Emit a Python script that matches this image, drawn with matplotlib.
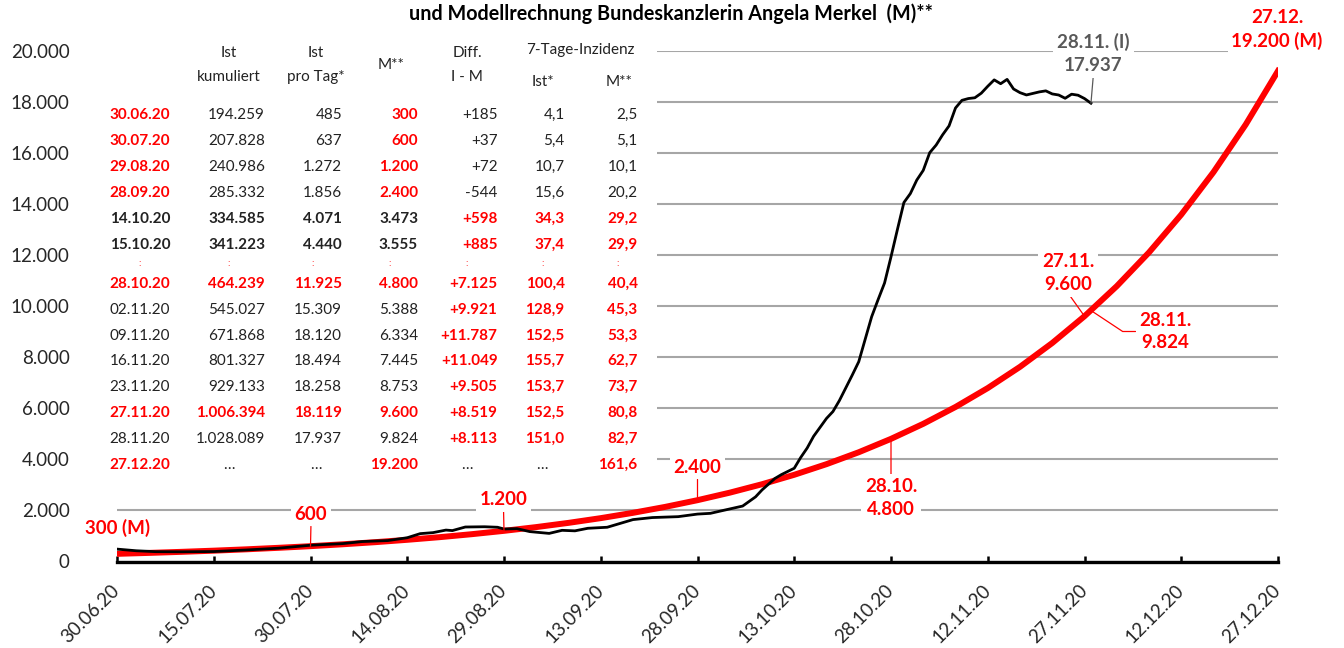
import matplotlib
matplotlib.use('Agg')
import matplotlib.pyplot as plt
import matplotlib.dates as mdates
from matplotlib.patches import Rectangle
from matplotlib.ticker import FuncFormatter
import numpy as np
import pandas as pd

plt.rcParams['font.family'] = ['Lato', 'DejaVu Sans']

W, H = 1344, 648
START = pd.Timestamp('2020-06-30')

RED = '#ff0000'
BLACK = '#222222'
GRAY = '#595959'
GRID = '#a6a6a6'

# Modellrechnung (M): Tage ab 30.06.20 und Neuinfektionen pro Tag
model_days = [0, 5, 10, 15, 20, 25, 30, 35, 40, 45, 50, 55, 60, 65, 70, 75, 80, 85, 90,
              95, 100, 105, 110, 115, 120, 125, 130, 135, 140, 145, 150, 155, 160, 165,
              170, 175, 180]
model_values = [300, 337, 378, 424, 476, 535, 600, 674, 756, 849, 952, 1069, 1200, 1347,
                1512, 1697, 1905, 2138, 2400, 2694, 3024, 3394, 3810, 4276, 4800, 5388,
                6048, 6788, 7619, 8552, 9600, 10776, 12096, 13577, 15240, 17105, 19200]

# Ist (I): Neuinfektionen pro Tag (7-Tage-Mittel)
ist_days = [0, 3, 6, 10, 15, 20, 25, 30, 35, 38, 42, 45, 47, 49, 51, 52, 54, 57, 59, 60,
            62, 64, 67, 69, 71, 73, 76, 78, 80, 83, 87, 90, 92, 94, 97, 99, 100, 102, 103,
            105, 106, 107, 108, 110, 111, 112, 113, 114, 115, 116, 117, 118, 119, 120,
            121, 122, 123, 124, 125, 126, 127, 128, 129, 130, 131, 132, 133, 134, 135,
            136, 137, 138, 139, 140, 141, 142, 143, 144, 145, 146, 147, 148, 149, 150, 151]
ist_values = [485, 420, 385, 380, 390, 450, 520, 637, 700, 780, 820, 930, 1090, 1130, 1230,
              1210, 1350, 1360, 1340, 1272, 1285, 1170, 1100, 1220, 1200, 1300, 1340, 1490,
              1640, 1720, 1755, 1856, 1885, 2000, 2170, 2530, 2800, 3250, 3400, 3650, 4071,
              4440, 4900, 5600, 5870, 6300, 6800, 7300, 7820, 8700, 9580, 10250, 10900,
              11925, 13000, 14050, 14400, 14930, 15309, 16000, 16300, 16700, 17050, 17750,
              18050, 18120, 18150, 18330, 18600, 18850, 18700, 18870, 18494, 18350, 18260,
              18320, 18380, 18420, 18300, 18258, 18130, 18290, 18250, 18119, 17937]

# Tabelle
tab_dates = ['30.06.20', '30.07.20', '29.08.20', '28.09.20', '14.10.20', '15.10.20',
             '28.10.20', '02.11.20', '09.11.20', '16.11.20', '23.11.20', '27.11.20',
             '28.11.20', '27.12.20']
tab_kum = ['194.259', '207.828', '240.986', '285.332', '334.585', '341.223', '464.239',
           '545.027', '671.868', '801.327', '929.133', '1.006.394', '1.028.089', '…']
tab_tag = ['485', '637', '1.272', '1.856', '4.071', '4.440', '11.925', '15.309', '18.120',
           '18.494', '18.258', '18.119', '17.937', '…']
tab_m = ['300', '600', '1.200', '2.400', '3.473', '3.555', '4.800', '5.388', '6.334',
         '7.445', '8.753', '9.600', '9.824', '19.200']
tab_diff = ['+185', '+37', '+72', '-544', '+598', '+885', '+7.125', '+9.921', '+11.787',
            '+11.049', '+9.505', '+8.519', '+8.113', '…']
tab_inz_ist = ['4,1', '5,4', '10,7', '15,6', '34,3', '37,4', '100,4', '128,9', '152,5',
               '155,7', '153,7', '152,5', '151,0', '…']
tab_inz_m = ['2,5', '5,1', '10,1', '20,2', '29,2', '29,9', '40,4', '45,3', '53,3', '62,7',
             '73,7', '80,8', '82,7', '161,6']

R, K = RED, BLACK
row_fmt = {
    'frueh': ([R, K, K, R, K, K, K], [1, 0, 0, 1, 0, 0, 0]),
    'fett': ([K, K, K, K, R, R, R], [1, 1, 1, 1, 1, 1, 1]),
    'rot': ([R] * 7, [1] * 7),
    'spaet': ([K, K, K, K, R, R, R], [0, 0, 0, 0, 1, 1, 1]),
    'ende': ([R, K, K, R, K, K, R], [1, 0, 0, 1, 0, 0, 1]),
}
row_kind = ['frueh'] * 4 + ['fett'] * 2 + ['rot'] + ['spaet'] * 4 + ['rot', 'spaet', 'ende']


def fx(x):
    return x / W


def fy(y):
    return 1 - y / H


x0 = mdates.date2num(START)

fig = plt.figure(figsize=(W / 100, H / 100), dpi=100)
ax = fig.add_axes([fx(117), fy(561.5), (1278 - 117) / W, (561.5 - 50.5) / H])

ax.plot(x0 + np.array(model_days), model_values, color=RED, lw=4.3, zorder=3)
ax.plot(x0 + np.array(ist_days), ist_values, color='black', lw=2, zorder=4)

ax.set_xlim(x0, x0 + 180)
ax.set_ylim(0, 20000)
ax.set_yticks(np.arange(0, 20001, 2000))
ax.set_xticks(x0 + np.arange(0, 181, 15))
ax.xaxis.set_major_formatter(mdates.DateFormatter('%d.%m.%y'))
ax.yaxis.set_major_formatter(FuncFormatter(lambda v, p: f'{v:,.0f}'.replace(',', '.')))

ax.set_axisbelow(True)
ax.yaxis.grid(True, color=GRID, lw=1.5)
for s in ['left', 'right', 'top']:
    ax.spines[s].set_visible(False)
ax.spines['bottom'].set_linewidth(2.4)
ax.spines['bottom'].set_color('black')
ax.tick_params(axis='y', length=0, pad=34, labelsize=13.5, labelcolor='#262626')
ax.tick_params(axis='x', direction='in', length=4, width=1.8, pad=19, labelsize=13.5,
               labelcolor='#262626')
for lab in ax.get_xticklabels():
    lab.set_rotation(45)
    lab.set_ha('right')
    lab.set_va('center')
    lab.set_rotation_mode('anchor')

# weisser Hintergrund der Tabelle
ax.add_patch(Rectangle((x0, 3200), 83.7, 17500, facecolor='white', edgecolor='none',
                       zorder=1, clip_on=False))


def label(day, value, text, dx, dy, color=RED, rel=None, conn='arc3'):
    kw = {}
    if rel is not None:
        kw['arrowprops'] = dict(arrowstyle='-', color=color, lw=0.9, shrinkA=0, shrinkB=0,
                                relpos=rel, connectionstyle=conn)
    ax.annotate(text, xy=(x0 + day, value), xytext=(dx, dy), textcoords='offset pixels',
                ha='center', va='center', color=color, fontsize=13.5, fontweight='bold',
                linespacing=1.4, zorder=6, annotation_clip=False,
                bbox=dict(boxstyle='square,pad=0.2', fc='white', ec='none'), **kw)


label(0, int(tab_m[0].replace('.', '')), '300 (M)', 0.5, 26)
label(30, int(tab_m[1].replace('.', '')), '600', 0.5, 32, rel=(0.5, 0))
label(60, int(tab_m[2].replace('.', '')), '1.200', -0.5, 31, rel=(0.5, 0))
label(90, int(tab_m[3].replace('.', '')), '2.400', 0, 33, rel=(0.5, 0))
label(120, int(tab_m[6].replace('.', '')), '28.10.\n4.800', 0, -59, rel=(0.5, 1))
label(150, int(tab_m[11].replace('.', '')), '27.11.\n9.600', -16.5, 43, rel=(0.5, 0))
label(151, int(tab_m[12].replace('.', '')), '28.11.\n9.824', 74.5, -21, rel=(0, 0.5),
      conn='angle,angleA=0,angleB=-33.5,rad=0')
label(151, ist_values[-1], '28.11. (I)\n17.937', 2.5, 49.5, color=GRAY, rel=(0.5, 0))
label(180, model_values[-1], '27.12.\n19.200 (M)', -1, 41)

fig.text(0.4995, fy(13.5), 'und Modellrechnung Bundeskanzlerin Angela Merkel  (M)**',
         ha='center', va='center', fontsize=14.2, fontweight='bold', color='black')

# Tabellenkopf
TS = 11
head = [(229, 52.7, 'Ist'), (229, 77, 'kumuliert'), (316, 52.7, 'Ist'),
        (316, 77, 'pro Tag*'), (391, 65, 'M**'), (467, 52.7, 'Diff.'), (467, 77, 'I - M'),
        (580, 50, '7-Tage-Inzidenz'), (543, 81.7, 'Ist*'), (619, 81.7, 'M**')]
for hx, hy, ht in head:
    fig.text(fx(hx), fy(hy), ht, ha='center', va='center', fontsize=TS, color=BLACK)

col_right = [None, 265, 342, 418, 497.5, 564.6, 637.5]
col_center = [140, 229, 316, 390, 467, 542, 618]
row_y = [115, 141, 167, 193, 219, 245, 283.5, 309.5, 335.5, 361, 387, 413, 439, 465]
columns = [tab_dates, tab_kum, tab_tag, tab_m, tab_diff, tab_inz_ist, tab_inz_m]

for i, kind in enumerate(row_kind):
    colors, bolds = row_fmt[kind]
    for j, col in enumerate(columns):
        t = col[i]
        if t == '…' or col_right[j] is None:
            xx, ha = col_center[j], 'center'
        else:
            xx, ha = col_right[j], 'right'
        fig.text(fx(xx), fy(row_y[i]), t, ha=ha, va='center', fontsize=TS,
                 color=colors[j], fontweight='bold' if bolds[j] else 'normal')

for cx in [140, 229, 313, 390, 467, 543, 617.5]:
    fig.text(fx(cx), fy(264), ':', ha='center', va='center', fontsize=7, color=RED)

fig.savefig('out.png', dpi=100)
